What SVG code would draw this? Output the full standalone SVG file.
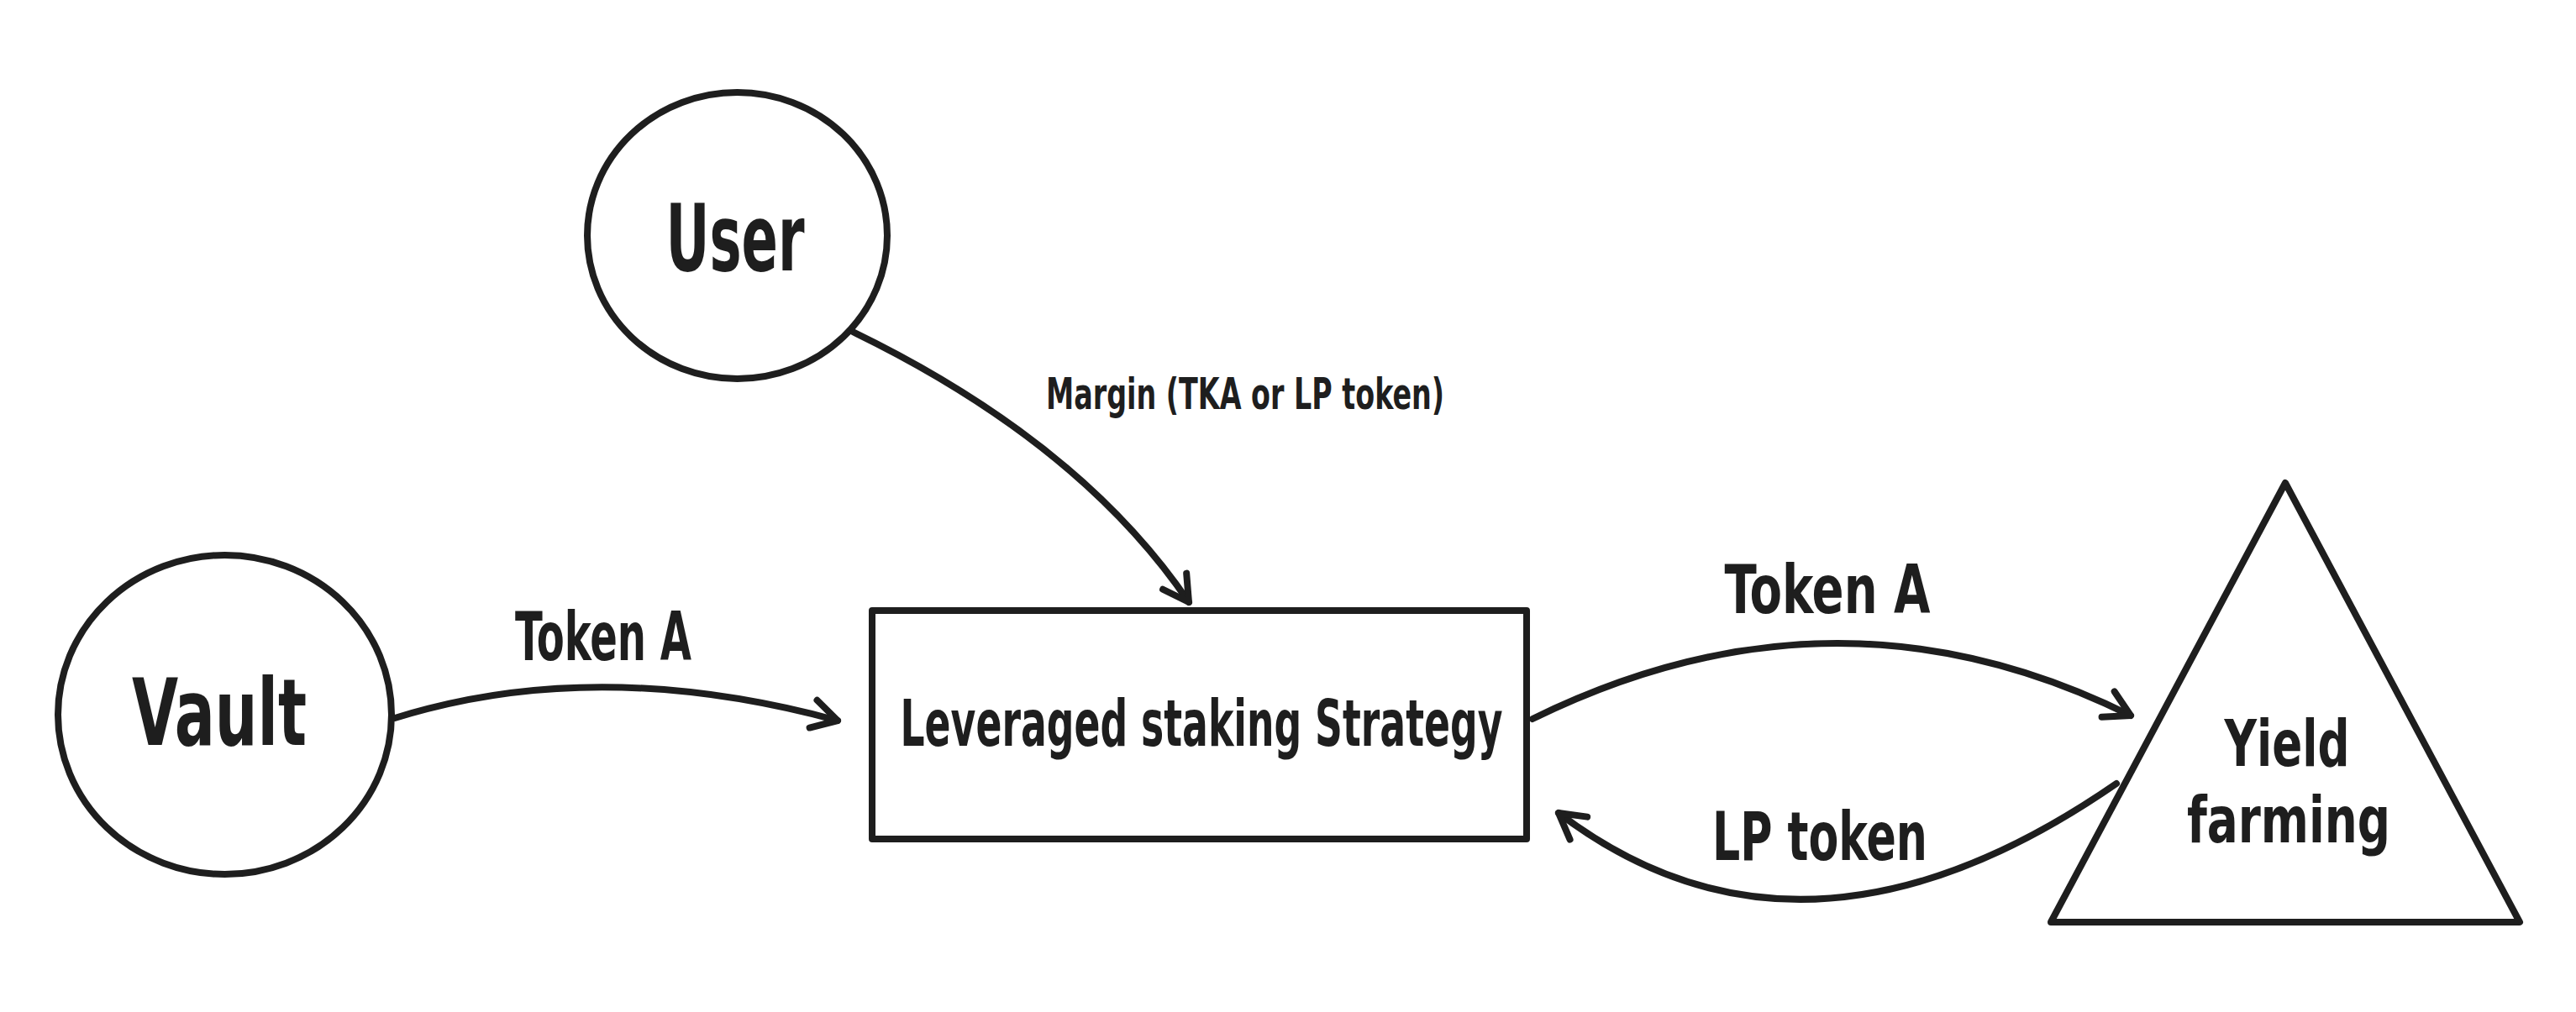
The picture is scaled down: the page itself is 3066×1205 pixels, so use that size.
<svg xmlns="http://www.w3.org/2000/svg" width="3066" height="1205" viewBox="0 0 3066 1205">
<defs>
<style>
.shape{fill:#ffffff;stroke:#1e1e1e;stroke-width:8;stroke-linejoin:round;stroke-linecap:round}
.edge{fill:none;stroke:#1e1e1e;stroke-width:8;stroke-linecap:round;marker-end:url(#arrow)}
.t{font-family:"DejaVu Sans Condensed","Liberation Sans Narrow","Liberation Sans",sans-serif;fill:#1e1e1e;text-anchor:middle;font-weight:bold}
.big{font-size:110px}
.lbl{font-size:80px}
.mid{font-size:76px}
.small{font-size:52px}
</style>
<marker id="arrow" markerUnits="userSpaceOnUse" markerWidth="80" markerHeight="80" viewBox="-40 -40 80 80" refX="0" refY="0" orient="auto" overflow="visible">
<path d="M -30 -17 L 0 0 L -30 17" fill="none" stroke="#1e1e1e" stroke-width="8" stroke-linecap="round" stroke-linejoin="round"/>
</marker>
</defs>
<rect width="3066" height="1205" fill="#ffffff"/>
<g id="node-user">
<ellipse class="shape" cx="877.5" cy="280.5" rx="178.5" ry="170.5"/>
<text class="t big" x="875" y="322" textLength="165" lengthAdjust="spacingAndGlyphs">User</text>
</g>
<g id="node-vault">
<ellipse class="shape" cx="267.5" cy="851" rx="198.5" ry="190"/>
<text class="t big" x="261" y="887" textLength="208" lengthAdjust="spacingAndGlyphs">Vault</text>
</g>
<g id="node-strategy">
<rect class="shape" x="1038" y="727" width="779" height="272"/>
<text class="t mid" x="1430" y="888" textLength="717" lengthAdjust="spacingAndGlyphs">Leveraged staking Strategy</text>
</g>
<g id="node-yield">
<path class="shape" d="M 2720 575 L 2999 1098 L 2441 1098 Z"/>
<text class="t mid" x="2722" y="912" textLength="149" lengthAdjust="spacingAndGlyphs">Yield</text>
<text class="t mid" x="2724" y="1003" textLength="242" lengthAdjust="spacingAndGlyphs">farming</text>
</g>
<g id="connectors">
<path class="edge" d="M 1015 395 Q 1285 526 1415 717"/>
<path class="edge" d="M 470 855 Q 710 780 997 858"/>
<path class="edge" d="M 1824 856 Q 2186 678 2536 852"/>
<path class="edge" d="M 2519 933 Q 2147 1190 1855 968"/>
<text class="t small" x="1482" y="487" textLength="474" lengthAdjust="spacingAndGlyphs">Margin (TKA or LP token)</text>
<text class="t lbl" x="718" y="786" textLength="210" lengthAdjust="spacingAndGlyphs">Token A</text>
<text class="t lbl" x="2175" y="730" textLength="245" lengthAdjust="spacingAndGlyphs">Token A</text>
<text class="t lbl" x="2166" y="1024" textLength="256" lengthAdjust="spacingAndGlyphs">LP token</text>
</g>
</svg>
